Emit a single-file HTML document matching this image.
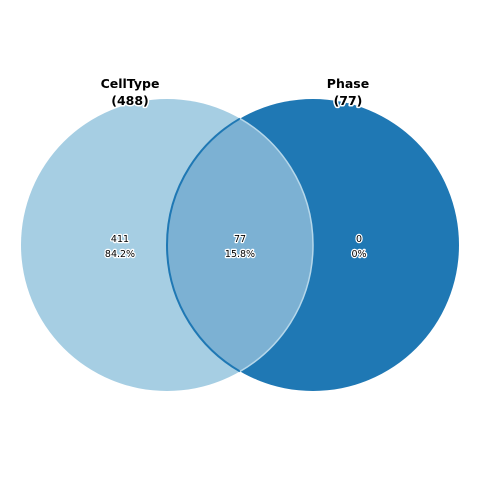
<!DOCTYPE html>
<html><head><meta charset="utf-8"><style>
html,body{margin:0;padding:0;background:#fff;}
svg{display:block;font-family:"DejaVu Sans","Liberation Sans",sans-serif;}
.lbl{font-size:9.5px;fill:#000;stroke:#fff;stroke-width:2.5px;paint-order:stroke;stroke-linejoin:round;}
.ttl{font-size:12.5px;font-weight:bold;fill:#000;stroke:#fff;stroke-width:3px;paint-order:stroke;stroke-linejoin:round;}
</style></head><body>
<svg id="chart" width="480" height="480"></svg>
<script>
const setNames = ["CellType", "Phase"];
const setSizes = [488, 77];
const regionCounts = [411, 77, 0];
const regionPercents = ["84.2%", "15.8%", "0%"];

const NS = "http://www.w3.org/2000/svg";
const svgEl = document.getElementById("chart");
function mk(tag, attrs) {
  const e = document.createElementNS(NS, tag);
  for (const k in attrs) e.setAttribute(k, attrs[k]);
  svgEl.appendChild(e);
  return e;
}
const cyC = 245, rad = 146, cxL = 167, cxR = 313;
const c1 = mk("circle", {cx: cxL, cy: cyC, r: rad, fill: "#a6cee3"});


const c2 = mk("circle", {cx: cxR, cy: cyC, r: rad, fill: "#1f78b4"});


const dist = cxR - cxL, halfH = Math.sqrt(rad * rad - (dist / 2) * (dist / 2));
const midX = (cxL + cxR) / 2, lensTop = cyC - halfH, lensBot = cyC + halfH;
const lens = mk("path", {d: `M${midX},${lensTop} A${rad},${rad} 0 0 1 ${midX},${lensBot} A${rad},${rad} 0 0 1 ${midX},${lensTop} Z`, fill: "#7cb1d3"});


const a1 = mk("path", {d: `M${midX},${lensTop} A${rad},${rad} 0 0 0 ${midX},${lensBot}`, fill: "none", stroke: "#1f78b4", "stroke-width": 2});


const a2 = mk("path", {d: `M${midX},${lensTop} A${rad},${rad} 0 0 1 ${midX},${lensBot}`, fill: "none", stroke: "#b5d7ea", "stroke-width": 1.5});



const titleX = [130, 348];
setNames.forEach((n, i) => {
  const t1 = mk("text", {x: titleX[i], y: 88, "text-anchor": "middle", class: "ttl"});
  t1.textContent = n;
  
  
  const t2 = mk("text", {x: titleX[i], y: 105, "text-anchor": "middle", class: "ttl"});
  t2.textContent = "(" + setSizes[i] + ")";
  
  
});

const regX = [120, 240, 359];
const regNames = ["celltype-only", "intersection", "phase-only"];
regionCounts.forEach((v, i) => {
  const t1 = mk("text", {x: regX[i], y: 242, "text-anchor": "middle", class: "lbl"});
  t1.textContent = v;
  
  
  const t2 = mk("text", {x: regX[i], y: 257, "text-anchor": "middle", class: "lbl"});
  t2.textContent = regionPercents[i];
  
  
});
</script>
</body></html>
